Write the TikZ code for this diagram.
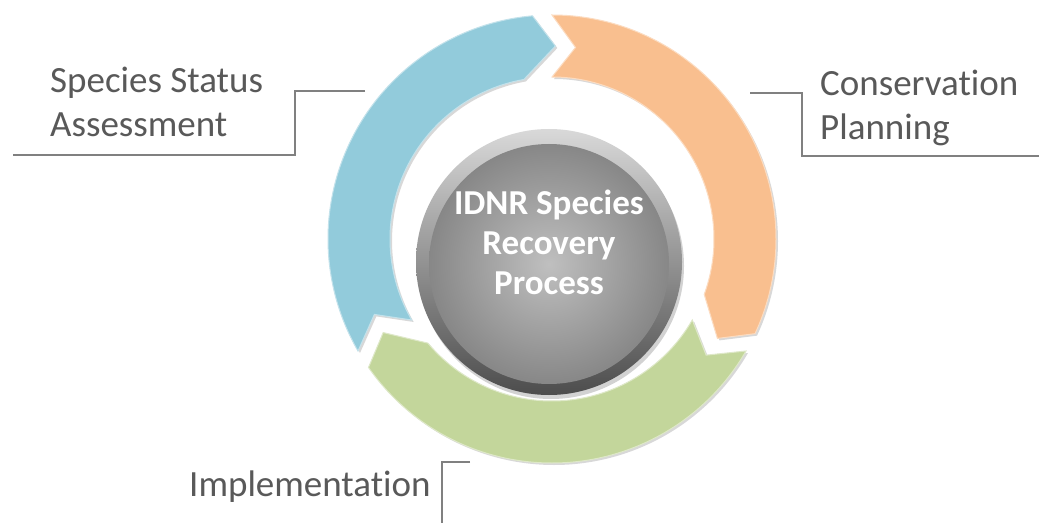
\documentclass[tikz,border=0pt]{standalone}
\usepackage{fontspec}
\setmainfont{Carlito}[RawFeature=-liga]
\usetikzlibrary{positioning,calc,shadows}
\definecolor{cycblue}{HTML}{92CBDB}
\definecolor{cycorange}{HTML}{F9BF8F}
\definecolor{cycgreen}{HTML}{C3D69B}
\definecolor{labelgray}{HTML}{595959}
\definecolor{linegray}{HTML}{808080}
\tikzset{
	segment/.style = {
		fill = #1,
		draw = #1!55!white,
		line width = 1pt,
		drop shadow = {opacity = 0.3, shadow xshift = 2pt, shadow yshift = -2pt}
	}
}

\begin{document}
\begin{tikzpicture}[
	x = 1pt, y = 1pt,
	every node/.style = {
		inner sep = 0pt,
		font = \fontsize{37}{44}\selectfont
	},
	phase/.style = {
		text = labelgray,
		align = left
	},
	callout/.style = {
		draw = linegray,
		line width = 1.3pt
	},
	hubtext/.style = {
		text = white,
		align = center,
		font = \fontsize{35}{40}\selectfont\bfseries
	}
	]

	\path[fill = white, use as bounding box] (0,0) rectangle (1039,523);

	\begin{scope}[shift = {(552,284)}]
		\path[segment = cycblue] (210:224pt) arc[start angle = 210, end angle = 95, radius = 224pt]
			-- (89:193pt) -- (100:162pt) arc[start angle = 100, end angle = 210, radius = 162pt]
			-- (203:193pt) -- cycle;
		\path[segment = cycorange] (90:224pt) arc[start angle = 90, end angle = -25, radius = 224pt]
			-- (-31:193pt) -- (-20:162pt) arc[start angle = -20, end angle = 90, radius = 162pt]
			-- (83:193pt) -- cycle;
		\path[segment = cycgreen] (330:224pt) arc[start angle = 330, end angle = 215, radius = 224pt]
			-- (209:193pt) -- (220:162pt) arc[start angle = 220, end angle = 330, radius = 162pt]
			-- (323:193pt) -- cycle;
	\end{scope}

	% sphere
	\path[drop shadow = {opacity = 0.35, shadow xshift = 2pt, shadow yshift = -4pt},
		top color = black!15, bottom color = black!70] (549,261) circle (133pt);
	\shade[inner color = black!25, outer color = black!47] (549,259) circle (120pt);

	\node[hubtext] (hub) at (549,281) {IDNR Species\\Recovery\\Process};

	\node[phase, anchor = north west] (ssa) at (50,456) {Species Status\\Assessment};
	\node[phase, anchor = north west] (plan) at (820,453) {Conservation\\Planning};
	\node[phase, anchor = base west] (impl) at (189,27) {Implementation};

	\coordinate (ssa-in) at (365,432);
	\coordinate (ssa-knee) at (295,368);
	\coordinate (ssa-end) at (13,368);
	\coordinate (plan-in) at (750,430);
	\coordinate (plan-knee) at (802,367);
	\coordinate (plan-end) at (1039,367);
	\coordinate (impl-in) at (470,61);
	\coordinate (impl-end) at (442,0);

	\draw[callout] (ssa-in) -| (ssa-knee) -- (ssa-end);
	\draw[callout] (plan-in) -| (plan-knee) -- (plan-end);
	\draw[callout] (impl-in) -| (impl-end);

\end{tikzpicture}
\end{document}
